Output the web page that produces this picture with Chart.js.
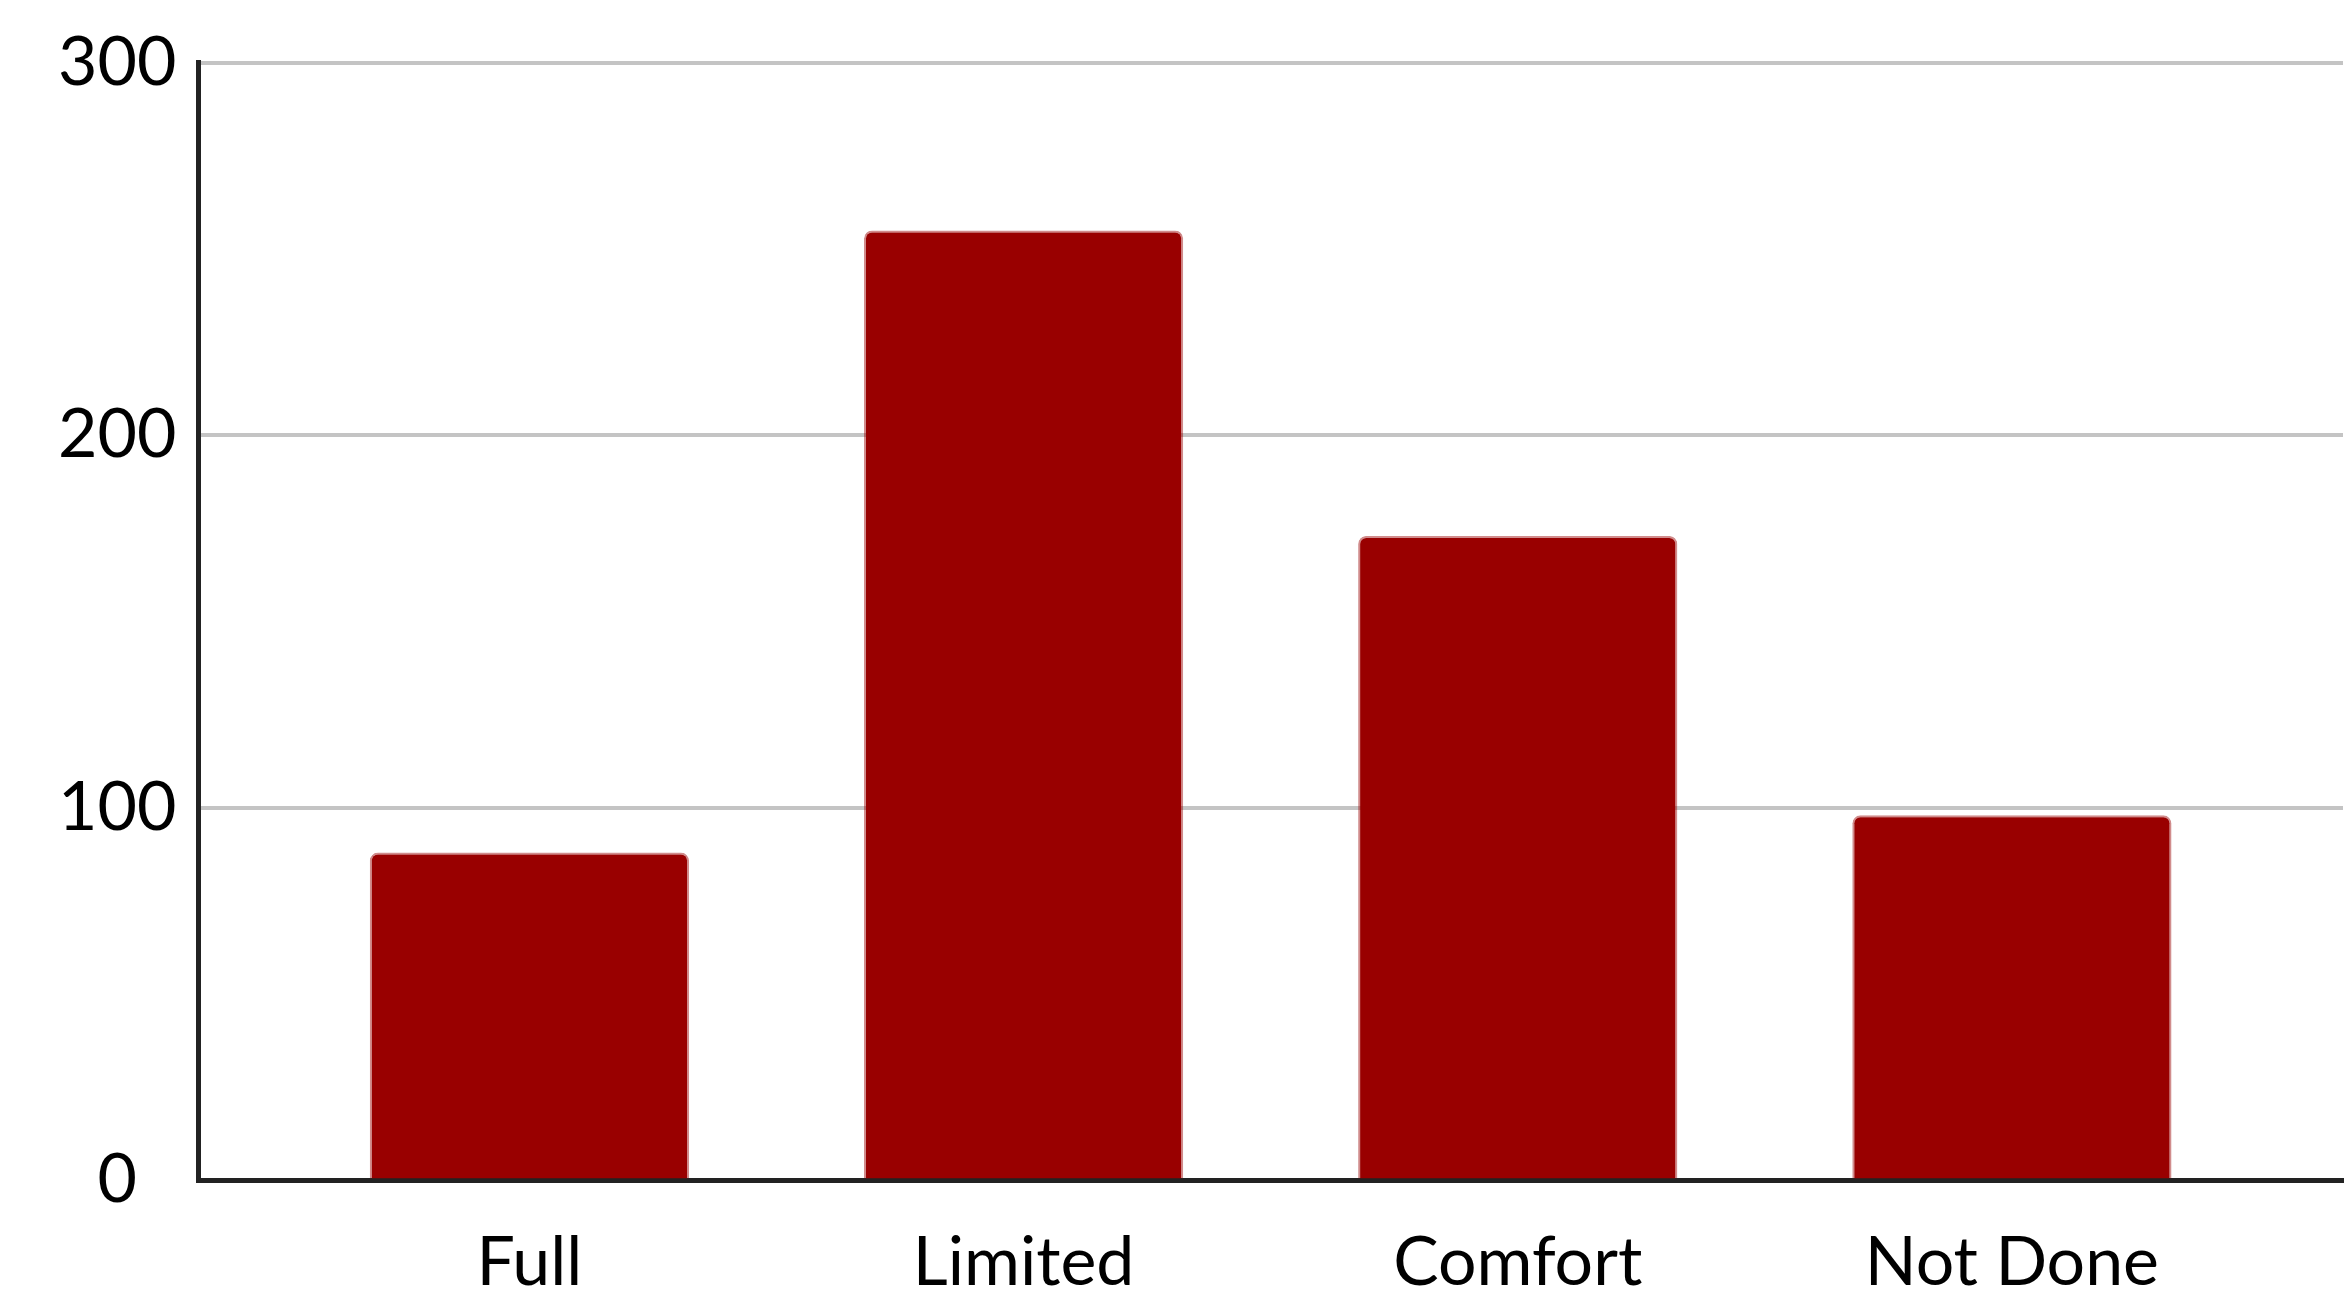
<!DOCTYPE html>
<html>
<head>
<meta charset="utf-8">
<script src="https://cdn.jsdelivr.net/npm/chart.js@4/dist/chart.umd.min.js"></script>
<style>
  html, body { margin: 0; padding: 0; background: #fff; overflow: hidden; }
  #wrap { width: 2348px; height: 1338px; position: relative; }
</style>
</head>
<body>
<div id="wrap"><canvas id="barChart"></canvas></div>
<script>
// --- data ---
const categories = ["Full", "Limited", "Comfort", "Not Done"];
const counts = [88, 255, 173, 98];
const yTicks = [0, 100, 200, 300];

const FONT = "Lato, 'Open Sans', sans-serif";
const BAR_RED = '#990000';

// bars sit on a linear x axis so the side margins can be wider than a category slot
const points = categories.map((c, i) => ({ x: i, y: counts[i] }));

new Chart(document.getElementById('barChart'), {
    type: 'bar',
    data: {
        datasets: [{
            data: points,
            backgroundColor: BAR_RED,
            borderColor: 'rgba(153, 0, 0, 0.45)',
            borderWidth: 2,
            borderSkipped: 'bottom',
            borderRadius: { topLeft: 8, topRight: 8 },
            categoryPercentage: 1,
            barPercentage: 0.646
        }]
    },
    options: {
        responsive: true,
        maintainAspectRatio: false,
        animation: false,
        layout: { padding: { top: 62, right: 5, left: 36, bottom: 0 } },
        plugins: { legend: { display: false }, tooltip: { enabled: false } },
        scales: {
            x: {
                type: 'linear',
                offset: false,
                min: -0.67,
                max: categories.length - 1 + 0.67,
                afterBuildTicks: (scale) => { scale.ticks = categories.map((c, i) => ({ value: i })); },
                grid: { display: false },
                border: { display: true, color: '#222', width: 5 },
                ticks: {
                    color: '#000',
                    padding: 34,
                    font: { family: FONT, size: 68 },
                    callback: (v) => categories[v]
                }
            },
            y: {
                min: 0,
                max: 300,
                afterBuildTicks: (scale) => { scale.ticks = yTicks.map(v => ({ value: v })); },
                grid: { color: '#c4c4c4', lineWidth: 4, drawTicks: false },
                border: { display: true, color: '#222', width: 5 },
                ticks: {
                    color: '#000',
                    padding: 22,
                    crossAlign: 'center',
                    font: { family: FONT, size: 68 }
                }
            }
        }
    }
});
</script>
</body>
</html>
